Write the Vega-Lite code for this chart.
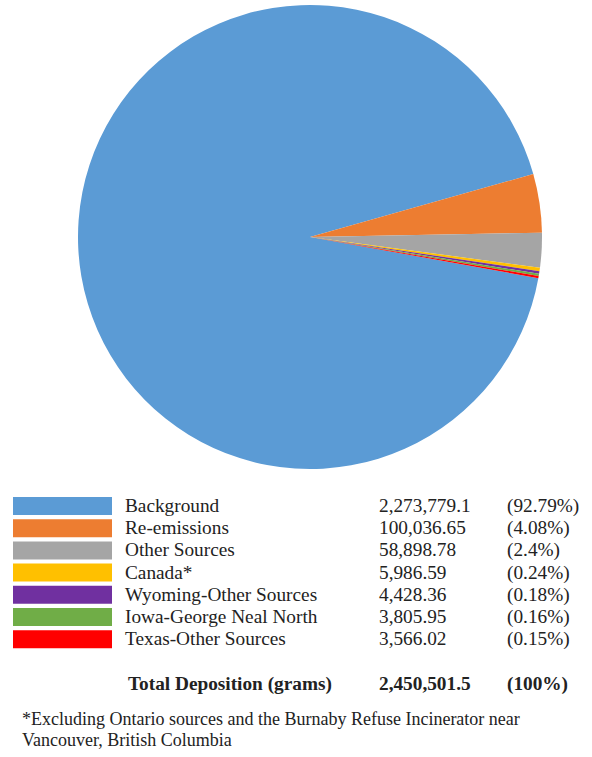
{
  "$schema": "https://vega.github.io/schema/vega-lite/v6.json",
  "padding": 0,
  "spacing": 0,
  "background": "white",
  "config": {"view": {"stroke": null}, "text": {"font": "Liberation Serif", "fontSize": 19.3, "color": "#222222", "align": "left", "baseline": "middle"}},
  "datasets": {
    "sources": [
      {"row": 1, "label": "Background", "value": 2273779.1, "valueText": "2,273,779.1", "pctText": "(92.79%)"},
      {"row": 2, "label": "Re-emissions", "value": 100036.65, "valueText": "100,036.65", "pctText": "(4.08%)"},
      {"row": 3, "label": "Other Sources", "value": 58898.78, "valueText": "58,898.78", "pctText": "(2.4%)"},
      {"row": 4, "label": "Canada*", "value": 5986.59, "valueText": "5,986.59", "pctText": "(0.24%)"},
      {"row": 5, "label": "Wyoming-Other Sources", "value": 4428.36, "valueText": "4,428.36", "pctText": "(0.18%)"},
      {"row": 6, "label": "Iowa-George Neal North", "value": 3805.95, "valueText": "3,805.95", "pctText": "(0.16%)"},
      {"row": 7, "label": "Texas-Other Sources", "value": 3566.02, "valueText": "3,566.02", "pctText": "(0.15%)"}
    ],
    "total": [
      {"row": 9, "label": "Total Deposition (grams)", "valueText": "2,450,501.5", "pctText": "(100%)"}
    ]
  },
  "vconcat": [
    {
      "width": 620,
      "height": 474,
      "data": {"name": "sources"},
      "mark": {"type": "arc", "outerRadius": 232},
      "encoding": {
        "theta": {"field": "value", "type": "quantitative", "stack": true, "scale": {"range": [1.749, 8.0322]}},
        "order": {"field": "row", "type": "quantitative"},
        "color": {
          "field": "label", "type": "nominal", "legend": null,
          "scale": {
            "domain": ["Background", "Re-emissions", "Other Sources", "Canada*", "Wyoming-Other Sources", "Iowa-George Neal North", "Texas-Other Sources"],
            "range": ["#5B9BD5", "#ED7D31", "#A5A5A5", "#FFC000", "#7030A0", "#70AD47", "#FF0000"]
          }
        }
      }
    },
    {
      "width": 592,
      "height": 226,
      "title": {
        "text": ["*Excluding Ontario sources and the Burnaby Refuse Incinerator near", "Vancouver, British Columbia"],
        "orient": "bottom", "anchor": "start", "frame": "group", "dx": 22, "offset": 11,
        "font": "Liberation Serif", "fontSize": 18, "fontWeight": "normal", "color": "#222222", "lineHeight": 21
      },
      "encoding": {
        "y": {"field": "row", "type": "quantitative", "axis": null, "scale": {"domain": [0, 10], "range": [9.8, 231.8]}}
      },
      "layer": [
        {
          "data": {"name": "sources"},
          "mark": {"type": "rect", "height": 18},
          "encoding": {
            "x": {"datum": 13, "type": "quantitative", "axis": null, "scale": {"domain": [0, 592], "nice": false, "zero": false}},
            "x2": {"datum": 112},
            "color": {"field": "label", "type": "nominal", "legend": null}
          }
        },
        {
          "data": {"name": "sources"},
          "mark": {"type": "text"},
          "encoding": {"x": {"datum": 125, "type": "quantitative"}, "text": {"field": "label"}}
        },
        {
          "data": {"name": "sources"},
          "mark": {"type": "text"},
          "encoding": {"x": {"datum": 379, "type": "quantitative"}, "text": {"field": "valueText"}}
        },
        {
          "data": {"name": "sources"},
          "mark": {"type": "text"},
          "encoding": {"x": {"datum": 507, "type": "quantitative"}, "text": {"field": "pctText"}}
        },
        {
          "data": {"name": "total"},
          "mark": {"type": "text", "fontWeight": "bold"},
          "encoding": {"x": {"datum": 128, "type": "quantitative"}, "text": {"field": "label"}}
        },
        {
          "data": {"name": "total"},
          "mark": {"type": "text", "fontWeight": "bold"},
          "encoding": {"x": {"datum": 379, "type": "quantitative"}, "text": {"field": "valueText"}}
        },
        {
          "data": {"name": "total"},
          "mark": {"type": "text", "fontWeight": "bold"},
          "encoding": {"x": {"datum": 507, "type": "quantitative"}, "text": {"field": "pctText"}}
        }
      ],
      "resolve": {"scale": {"color": "shared"}}
    }
  ]
}
